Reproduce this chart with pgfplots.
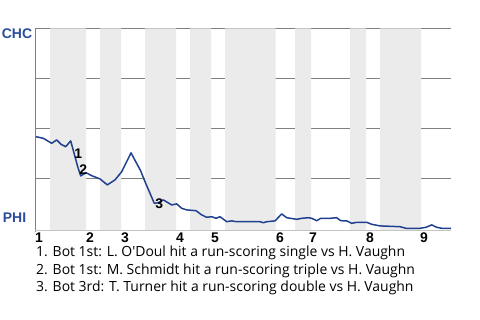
\documentclass[border=0pt]{standalone}
\usepackage{fontspec}
\setmainfont{Liberation Sans}
\newfontfamily\notefont{Open Sans}
\usepackage{pgfplots}
\pgfplotsset{compat=1.18}
\definecolor{wpline}{HTML}{1F3F8F}
\definecolor{teamblue}{HTML}{2B4C9B}
\definecolor{band}{HTML}{EBEBEB}
\definecolor{gridgray}{HTML}{808080}
\definecolor{basegray}{HTML}{C4C4C4}
\begin{document}
\begin{tikzpicture}
\useasboundingbox (-35.3bp,-90bp) rectangle (444.7bp,230bp);
\begin{axis}[
  scale only axis,
  width=415.7bp, height=201.7bp,
  xmin=35.3, xmax=451, ymin=-0.85, ymax=100,
  axis line style={draw=none},
  major tick length=0pt,
  ytick={25,50,75,100}, yticklabels={},
  ymajorgrids, grid style={gridgray, line width=0.8pt},
  xtick={39,90,125,180,215,280,313,370,424},
  xticklabels={1,2,3,4,5,6,7,8,9},
  xticklabel style={font=\bfseries\fontsize{14}{14}\selectfont, inner sep=0pt, anchor=north, yshift=-2.5bp},
  clip=false,
  axis on top=false,
]
% half-inning bands (bottom halves)
\addplot[fill=band, draw=none] coordinates {(50,-0.85)(86,-0.85)(86,100)(50,100)} \closedcycle;
\addplot[fill=band, draw=none] coordinates {(100,-0.85)(121,-0.85)(121,100)(100,100)} \closedcycle;
\addplot[fill=band, draw=none] coordinates {(145,-0.85)(176,-0.85)(176,100)(145,100)} \closedcycle;
\addplot[fill=band, draw=none] coordinates {(190,-0.85)(211,-0.85)(211,100)(190,100)} \closedcycle;
\addplot[fill=band, draw=none] coordinates {(225,-0.85)(275.7,-0.85)(275.7,100)(225,100)} \closedcycle;
\addplot[fill=band, draw=none] coordinates {(295,-0.85)(311,-0.85)(311,100)(295,100)} \closedcycle;
\addplot[fill=band, draw=none] coordinates {(350,-0.85)(366,-0.85)(366,100)(350,100)} \closedcycle;
\addplot[fill=band, draw=none] coordinates {(380,-0.85)(421,-0.85)(421,100)(380,100)} \closedcycle;
% frame lines
\draw[gridgray, line width=0.8pt] (axis cs:35.3,-2) -- (axis cs:35.3,100);
\draw[basegray, line width=0.8pt] (axis cs:35.3,-0.85) -- (axis cs:451,-0.85);
% win probability (CHC)
\addplot[wpline, line width=1.5pt, line join=round] coordinates {
(36,45.8)(43.3,45.0)(51.7,42.5)(56.7,44.2)(61,42.0)(65.7,40.8)(70.7,43.7)
(75,35.8)(77.7,30.8)(80.7,26.2)(86,27.8)(91.7,26.3)(100,24.7)(107.3,21.7)
(115,24.2)(121.7,28.3)(131,37.7)(140.7,28.7)(145,23.3)(150,17.5)(154.3,12.5)
(158.3,12.8)(163.3,14.2)(171.7,11.7)(176.7,12.2)(181.7,10.0)(186.7,9.2)
(196,8.8)(201.7,6.7)(206.7,5.5)(211.7,5.8)(216,5.0)(220,5.8)(226.7,3.3)
(231.7,3.7)(236.7,3.3)(260,3.3)(263.3,2.8)(266.7,3.3)(275,3.7)(281.7,7.2)
(286.7,5.3)(296.7,4.5)(301.7,5.0)(308.3,5.3)(311.7,5.0)(316.7,3.8)(320.7,5.0)
(330,5.0)(336.7,5.3)(340.7,3.8)(346.7,3.7)(351.7,2.5)(356.7,3.0)(366.7,3.0)
(371.7,2.0)(380,1.2)(400,0.8)(406,0.0)(420,0.0)(426,0.5)(431.7,1.7)
(436.7,0.5)(441.7,0.0)(451,0.0)
};
\node[font=\bfseries\fontsize{14}{14}\selectfont] at (axis cs:78.3,37.5) {1};
\node[font=\bfseries\fontsize{14}{14}\selectfont] at (axis cs:83.3,29.2) {2};
\node[font=\bfseries\fontsize{14}{14}\selectfont] at (axis cs:159.3,12.5) {3};
\end{axis}
\node[anchor=west, inner sep=0pt, text=teamblue, font=\bfseries\fontsize{14}{14}\selectfont] at (-33.6bp,196bp) {CHC};
\node[anchor=west, inner sep=0pt, text=teamblue, font=\bfseries\fontsize{14}{14}\selectfont] at (-32.6bp,12bp) {PHI};
\node[anchor=west, inner sep=0pt, font=\notefont\fontsize{14}{14}\selectfont] at (0.7bp,-23.3bp) {1. Bot 1st: L. O'Doul hit a run-scoring single vs H. Vaughn};
\node[anchor=west, inner sep=0pt, font=\notefont\fontsize{14}{14}\selectfont] at (0.7bp,-41bp) {2. Bot 1st: M. Schmidt hit a run-scoring triple vs H. Vaughn};
\node[anchor=west, inner sep=0pt, font=\notefont\fontsize{14}{14}\selectfont] at (0.7bp,-58.3bp) {3. Bot 3rd: T. Turner hit a run-scoring double vs H. Vaughn};
\end{tikzpicture}
\end{document}
